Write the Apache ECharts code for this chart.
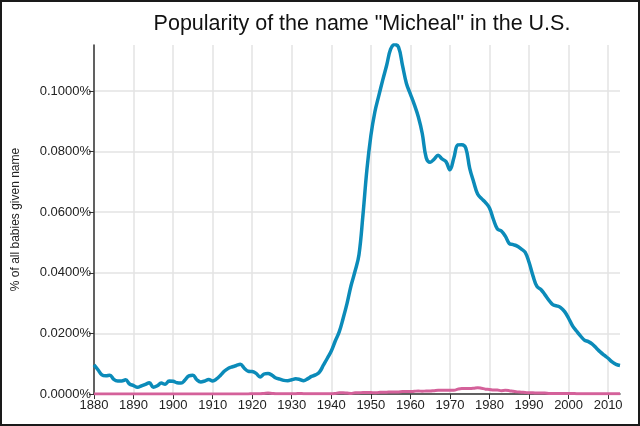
<!DOCTYPE html>
<html>
<head>
<meta charset="utf-8">
<script src="https://cdn.jsdelivr.net/npm/echarts@6/dist/echarts.min.js"></script>
<style>
  html, body { margin: 0; padding: 0; background: #fff; }
  #chart { width: 640px; height: 426px; box-sizing: border-box; border: 2px solid #1a1a1a; }
</style>
</head>
<body>
<div id="chart"></div>
<script>
// first year of both series, one value per year after that
var firstYear = 1880;

// % of all babies given the name, boys
var maleShare = [
  0.0096, 0.0080, 0.0063, 0.0060, 0.0062, 0.0048, 0.0043, 0.0043, 0.0047, 0.0033,
  0.0028, 0.0022, 0.0027, 0.0032, 0.0037, 0.0022, 0.0027, 0.0036, 0.0032, 0.0043,
  0.0042, 0.0037, 0.0036, 0.0046, 0.0060, 0.0062, 0.0047, 0.0040, 0.0043, 0.0048,
  0.0043, 0.0050, 0.0062, 0.0076, 0.0085, 0.0090, 0.0094, 0.0098, 0.0085, 0.0075,
  0.0074, 0.0068, 0.0056, 0.0066, 0.0068, 0.0062, 0.0053, 0.0049, 0.0045, 0.0044,
  0.0047, 0.0050, 0.0048, 0.0044, 0.0050, 0.0058, 0.0063, 0.0072, 0.0095, 0.0118,
  0.0142, 0.0175, 0.0205, 0.0250, 0.0300, 0.0358, 0.0405, 0.0460, 0.0590, 0.0740,
  0.0852, 0.0930, 0.0984, 0.1036, 0.1085, 0.1138, 0.1154, 0.1145, 0.1085, 0.1025,
  0.0990, 0.0955, 0.0915, 0.0860, 0.0780, 0.0765, 0.0775, 0.0788, 0.0776, 0.0767,
  0.0740, 0.0780, 0.0822, 0.0823, 0.0812, 0.0745, 0.0700, 0.0660, 0.0645, 0.0632,
  0.0614, 0.0576, 0.0545, 0.0538, 0.0521, 0.0497, 0.0493, 0.0488, 0.0479, 0.0468,
  0.0435, 0.0390, 0.0355, 0.0345, 0.0328, 0.0310, 0.0295, 0.0291, 0.0285, 0.0272,
  0.0250, 0.0225, 0.0208, 0.0192, 0.0178, 0.0173, 0.0165, 0.0152, 0.0139, 0.0128,
  0.0118, 0.0106, 0.0098, 0.0094
];

// % of all babies given the name, girls
var femaleShare = [
  0, 0, 0, 0, 0, 0, 0, 0, 0, 0,
  0, 0, 0, 0, 0, 0, 0, 0, 0, 0,
  0, 0, 0, 0, 0, 0, 0, 0, 0, 0,
  0, 0, 0, 0, 0, 0, 0, 0, 0, 0,
  0.0001, 0.0001, 0.0001, 0.0002, 0.0003, 0.0002, 0.0001, 0.0001, 0.0001, 0.0001,
  0.0001, 0.0001, 0.0002, 0.0001, 0.0001, 0.0001, 0.0001, 0.0001, 0.0001, 0.0001,
  0.0001, 0.0002, 0.0004, 0.0004, 0.0003, 0.0002, 0.0004, 0.0004, 0.0005, 0.0005,
  0.0005, 0.0004, 0.0005, 0.0006, 0.0006, 0.0007, 0.0007, 0.0007, 0.0008, 0.0008,
  0.0008, 0.0009, 0.0010, 0.0009, 0.0010, 0.0010, 0.0011, 0.0012, 0.0012, 0.0012,
  0.0012, 0.0012, 0.0016, 0.0018, 0.0018, 0.0018, 0.0019, 0.0021, 0.0019, 0.0016,
  0.0015, 0.0013, 0.0013, 0.0011, 0.0012, 0.0011, 0.0009, 0.0007, 0.0006, 0.0005,
  0.0004, 0.0004, 0.0003, 0.0003, 0.0003, 0.0002, 0.0002, 0.0002, 0.0002, 0.0002,
  0.0002, 0.0002, 0.0001, 0.0001, 0.0001, 0.0001, 0.0001, 0.0001, 0.0001, 0.0001,
  0.0001, 0.0001, 0.0001, 0.0001
];

function pairs(values) {
  var out = [];
  for (var i = 0; i < values.length; i++) {
    out.push([firstYear + i, values[i]]);
  }
  return out;
}

var chart = echarts.init(document.getElementById('chart'));
var option = {
  animation: false,
  textStyle: { fontFamily: 'Liberation Sans, Arial, sans-serif' },
  title: {
    text: 'Popularity of the name "Micheal" in the U.S.',
    left: 355,
    top: 6,
    textAlign: 'center',
    textStyle: { fontSize: 21.5, fontWeight: 'normal', color: '#111' }
  },
  grid: { left: 92, right: 18, top: 43, bottom: 30 },
  xAxis: {
    type: 'value',
    min: 1880,
    max: 2013,
    interval: 10,
    axisLine: { show: true, lineStyle: { color: '#333', width: 1.5 } },
    axisTick: { show: true, length: 5, lineStyle: { color: '#333' } },
    axisLabel: {
      color: '#222', fontSize: 13, margin: 5, showMaxLabel: false,
      formatter: function (v) { return String(v); }
    },
    splitLine: { show: true, showMaxLine: false, lineStyle: { color: '#e3e3e3', width: 1.5 } }
  },
  yAxis: {
    type: 'value',
    min: 0,
    max: 0.1152,
    interval: 0.02,
    name: '% of all babies given name',
    nameLocation: 'middle',
    nameGap: 72,
    nameTextStyle: { color: '#222', fontSize: 12 },
    axisLine: { show: true, lineStyle: { color: '#333', width: 1.5 } },
    axisTick: { show: true, length: 5, lineStyle: { color: '#333' } },
    axisLabel: {
      color: '#222', fontSize: 13, margin: 3, showMaxLabel: false,
      formatter: function (v) { return v.toFixed(4) + '%'; }
    },
    splitLine: { show: true, showMaxLine: false, lineStyle: { color: '#e3e3e3', width: 1.5 } }
  },
  series: [
    {
      name: 'female',
      type: 'line',
      data: pairs(femaleShare),
      smooth: 0.4,
      showSymbol: false,
      lineStyle: { color: '#d4619a', width: 3 },
      z: 3
    },
    {
      name: 'male',
      type: 'line',
      data: pairs(maleShare),
      smooth: 0.4,
      showSymbol: false,
      lineStyle: { color: '#0b8bb9', width: 3.5 },
      z: 4
    }
  ]
};
chart.setOption(option);
</script>
</body>
</html>
